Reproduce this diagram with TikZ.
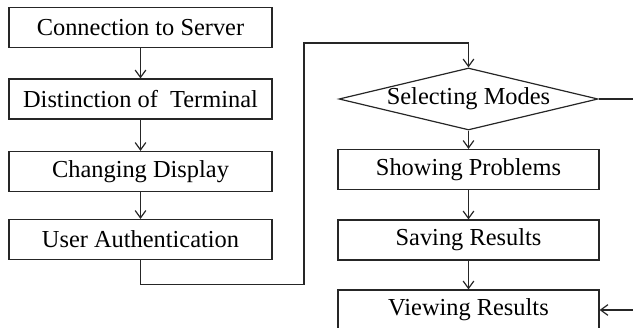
\documentclass[tikz,border=0pt]{standalone}
\usepackage{fontspec}
\setmainfont{Liberation Serif}
\usetikzlibrary{shapes.geometric,arrows.meta}

\tikzset{
  flowbox/.style={draw=black!85, line width=0.9pt, minimum height=30pt, inner sep=0.75pt,
    font=\fontsize{18.3}{20}\selectfont},
  leftbox/.style={flowbox, minimum width=197.25pt},
  rightbox/.style={flowbox, minimum width=195.75pt},
  choice/.style={flowbox, diamond, aspect=4.2, inner sep=0pt, minimum width=194.25pt, minimum height=46.5pt},
  arr/.style={draw=black!85, line width=0.9pt, -{Straight Barb[length=5.5pt,width=8pt]}},
  link/.style={draw=black!85, line width=0.9pt}
}

\begin{document}
\begin{tikzpicture}[x=0.75pt,y=0.75pt,yscale=-1,xscale=1]
    %set diagram to the size of the picture
    \useasboundingbox (0,0) rectangle (633,328);
    %Shape: Rectangle
    \node [leftbox] (cs) at (140.5,27.5) {Connection to Server};
    %Shape: Rectangle
    \node [leftbox] (dt) at (140.5,99) {Distinction of\ \ Terminal};
    %Shape: Rectangle
    \node [leftbox] (cd) at (140.5,171.5) {Changing Display};
    %Shape: Rectangle
    \node [leftbox] (ua) at (140.5,239.5) {User Authentication};
    %Shape: Diamond
    \node [choice] (sm) at (468.5,99) {\raisebox{-1.5pt}{Selecting Modes}};
    %Shape: Rectangle
    \node [rightbox] (sp) at (468.5,169.5) {Showing Problems};
    %Shape: Rectangle
    \node [rightbox] (sr) at (468.5,240) {Saving Results};
    %Shape: Rectangle
    \node [rightbox] (vr) at (468.5,310) {Viewing Results};
    % bends of the connectors
    \coordinate (overtop) at (304,43);
    \coordinate (edge) at (645,99);
    %Straight Lines
    \draw [arr] (cs) -- (dt);
    \draw [arr] (dt) -- (cd);
    \draw [arr] (cd) -- (ua);
    \draw [arr] (ua.south) -- ++(0,24) -| (overtop) -| (sm.north);
    \draw [arr] (sm) -- (sp);
    \draw [arr] (sp) -- (sr);
    \draw [arr] (sr) -- (vr);
    \draw [arr] (sm.east) -- (edge) |- (vr.east);
\end{tikzpicture}
\end{document}
